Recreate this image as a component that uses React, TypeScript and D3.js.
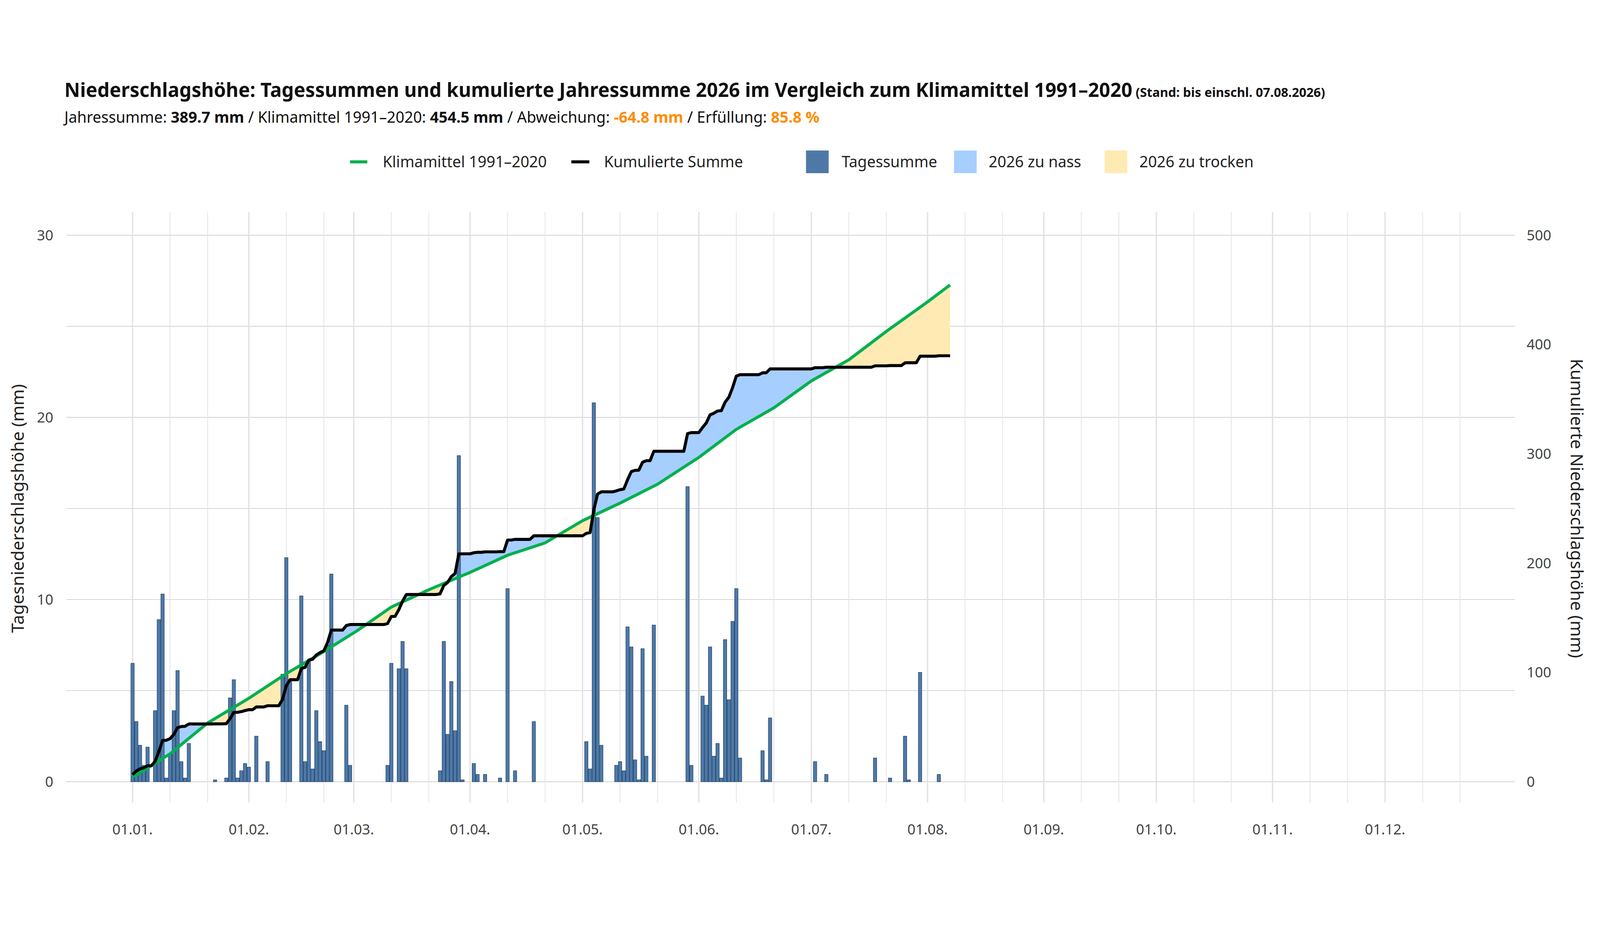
import React from 'react';
import * as d3 from 'd3';

// daily precipitation 2026 as [day of year (0 = 01.01.), mm]; days not listed are dry
const dailyRain: [number, number][] = [
  [0, 6.5], [1, 3.3], [2, 2.0], [3, 0.9], [4, 1.9], [6, 3.9], [7, 8.9], [8, 10.3], [9, 0.2], [10, 1.5],
  [11, 3.9], [12, 6.1], [13, 1.1], [14, 0.2], [15, 2.1], [22, 0.1], [25, 0.2], [26, 4.6], [27, 5.6],
  [28, 0.2], [29, 0.6], [30, 1.0], [31, 0.8], [33, 2.5], [36, 1.1], [40, 5.9], [41, 12.3], [42, 5.6],
  [45, 10.2], [46, 1.1], [47, 6.7], [48, 0.7], [49, 3.9], [50, 2.2], [51, 1.7], [52, 7.5], [53, 11.4],
  [57, 4.2], [58, 0.9], [68, 0.9], [69, 6.5], [71, 6.2], [72, 7.7], [73, 6.2], [82, 0.6], [83, 7.7],
  [84, 2.6], [85, 5.5], [86, 2.8], [87, 17.9], [88, 0.1], [91, 1.0], [92, 0.4], [94, 0.4], [98, 0.2],
  [100, 10.6], [102, 0.6], [107, 3.3], [121, 2.2], [122, 0.7], [123, 20.8], [124, 14.5], [125, 2.0],
  [129, 0.9], [130, 1.1], [131, 0.6], [132, 8.5], [133, 7.4], [134, 1.2], [135, 0.1], [136, 7.3],
  [137, 1.4], [139, 8.6], [148, 16.2], [149, 0.9], [152, 4.7], [153, 4.2], [154, 7.4], [155, 1.4],
  [156, 2.1], [157, 0.2], [158, 7.8], [159, 4.5], [160, 8.8], [161, 10.6], [162, 1.3], [168, 1.7],
  [169, 0.1], [170, 3.5], [182, 1.1], [185, 0.4], [198, 1.3], [202, 0.2], [206, 2.5], [207, 0.1],
  [210, 6.0], [215, 0.4],
];
const lastDay = 218; // 07.08.2026

// climate mean 1991–2020, cumulative mm, [day of year, mm]
const climateCum: [number, number][] = [
  [0, 4], [10, 25.5], [20, 53.7], [31, 76.3], [41, 98.9], [51, 119], [60, 138.4], [69, 159.8],
  [79, 175.6], [90, 191.5], [100, 207.2], [110, 218.5], [120, 238.8], [130, 254.9], [140, 272.2],
  [151, 296.7], [161, 322.4], [171, 342], [181, 366.7], [191, 386], [201, 412], [212, 439], [218, 454.5],
];

const leftTicks = [0, 10, 20, 30];
const rightTicks = [0, 100, 200, 300, 400, 500];
const monthLabels = ['01.01.', '01.02.', '01.03.', '01.04.', '01.05.', '01.06.', '01.07.', '01.08.', '01.09.', '01.10.', '01.11.', '01.12.'];

const W = 4800, H = 2400;
const FONT = '"Noto Sans", "Open Sans", sans-serif';
const GREEN = '#00b050', BAR = '#4e79a7', WET = '#a6cfff', DRY = '#ffeab3';

export default function App() {
  const year0 = new Date(2026, 0, 1);
  const dayDate = (d: number) => d3.timeDay.offset(year0, d);
  const x = d3.scaleTime().domain([year0, dayDate(365)]).range([397.7, 397.7 + 365 * 11.25]);
  const yL = d3.scaleLinear().domain([0, 30]).range([2137.6, 499]);
  const yR = d3.scaleLinear().domain([0, 500]).range([2137.6, 499]);
  const panelL = 199, panelR = 4545;

  const rainMap = new Map(dailyRain);
  const days = d3.range(0, lastDay + 1).map(d => ({ d, v: rainMap.get(d) ?? 0 }));
  let acc = 0;
  const cum = days.map(o => { acc += o.v; return { d: o.d, c: acc }; });

  const cumLine = d3.line<{ d: number; c: number }>().x(o => x(dayDate(o.d))).y(o => yR(o.c));
  const climLine = d3.line<[number, number]>().x(o => x(dayDate(o[0]))).y(o => yR(o[1]));
  const cumArea = d3.area<{ d: number; c: number }>().x(o => x(dayDate(o.d))).y0(yR(0)).y1(o => yR(o.c));
  const cumAbove = d3.area<{ d: number; c: number }>().x(o => x(dayDate(o.d))).y0(0).y1(o => yR(o.c));
  const climAbove = d3.area<[number, number]>().x(o => x(dayDate(o[0]))).y0(0).y1(o => yR(o[1]));
  const climBelow = d3.area<[number, number]>().x(o => x(dayDate(o[0]))).y0(yR(0)).y1(o => yR(o[1]));

  const months = d3.timeMonth.range(year0, dayDate(365));
  const dekads = months.flatMap(m => [d3.timeDay.offset(m, 10), d3.timeDay.offset(m, 20)]);
  const bw = 10;

  const legendY = 279;
  return (
    <svg viewBox={`0 0 ${W} ${H}`} preserveAspectRatio="xMidYMid meet"
      style={{ position: 'fixed', left: 0, top: 0, width: '100vw', height: '100vh', display: 'block', background: '#fff' }}
      fontFamily={FONT}>
      <defs>
        <clipPath id="aboveClim"><path d={climAbove(climateCum) || ''} /></clipPath>
        <clipPath id="aboveCum"><path d={cumAbove(cum) || ''} /></clipPath>
      </defs>
      <text x={193} y={84} fontSize={58} fontWeight={700} fill="#111">
        Niederschlagshöhe: Tagessummen und kumulierte Jahressumme 2026 im Vergleich zum Klimamittel 1991–2020
        <tspan fontSize={38}> (Stand: bis einschl. 07.08.2026)</tspan>
      </text>
      <text x={193} y={162} fontSize={46} fill="#111">
        Jahressumme: <tspan fontWeight={700}>389.7 mm</tspan> / Klimamittel 1991–2020: <tspan fontWeight={700}>454.5 mm</tspan> / Abweichung: <tspan fontWeight={700} fill="#ff8c00">-64.8 mm</tspan> / Erfüllung: <tspan fontWeight={700} fill="#ff8c00">85.8 %</tspan>
      </text>

      {/* legend */}
      <g fontSize={46} fill="#222">
        <line x1={1050} x2={1102} y1={legendY} y2={legendY} stroke={GREEN} strokeWidth={9} />
        <text x={1148} y={legendY + 16}>Klimamittel 1991–2020</text>
        <line x1={1714} x2={1768} y1={legendY} y2={legendY} stroke="#000" strokeWidth={9} />
        <text x={1812} y={legendY + 16}>Kumulierte Summe</text>
        <rect x={2418} y={legendY - 34} width={68} height={68} fill={BAR} />
        <text x={2525} y={legendY + 16}>Tagessumme</text>
        <rect x={2862} y={legendY - 34} width={68} height={68} fill={WET} />
        <text x={2966} y={legendY + 16}>2026 zu nass</text>
        <rect x={3314} y={legendY - 34} width={68} height={68} fill={DRY} />
        <text x={3418} y={legendY + 16}>2026 zu trocken</text>
      </g>

      {/* grid */}
      {d3.range(0, 31, 5).map(v => (
        <line key={'h' + v} x1={panelL} x2={panelR} y1={yL(v)} y2={yL(v)} stroke="#d6d6d6" strokeWidth={2.5} />
      ))}
      {months.map((m, i) => (
        <line key={'m' + i} x1={x(m)} x2={x(m)} y1={430} y2={2200} stroke="#e2e2e2" strokeWidth={4} />
      ))}
      {dekads.map((m, i) => (
        <line key={'k' + i} x1={x(m)} x2={x(m)} y1={430} y2={2200} stroke="#e6e6e6" strokeWidth={2.5} />
      ))}

      {/* wet / dry areas */}
      <path d={cumArea(cum) || ''} fill={WET} clipPath="url(#aboveClim)" />
      <path d={climBelow(climateCum) || ''} fill={DRY} clipPath="url(#aboveCum)" />

      {/* bars */}
      {days.map(o => (
        <rect key={o.d} x={x(dayDate(o.d)) - bw / 2} y={yL(o.v)} width={bw} height={yL(0) - yL(o.v)}
          fill={BAR} stroke="#24456b" strokeWidth={1.5} />
      ))}

      <path d={climLine(climateCum) || ''} fill="none" stroke={GREEN} strokeWidth={9} strokeLinejoin="round" />
      <path d={cumLine(cum) || ''} fill="none" stroke="#000" strokeWidth={9} strokeLinejoin="round" />

      {/* axes labels */}
      <g fontSize={43} fill="#444">
        {leftTicks.map(v => (
          <text key={v} x={160} y={yL(v) + 15} textAnchor="end">{v}</text>
        ))}
        {rightTicks.map(v => (
          <text key={v} x={4580} y={yR(v) + 15}>{v}</text>
        ))}
        {months.map((m, i) => (
          <text key={i} x={x(m)} y={2296} textAnchor="middle">{monthLabels[i]}</text>
        ))}
      </g>
      <text transform={`translate(72,${(yL(0) + yL(30)) / 2}) rotate(-90)`} textAnchor="middle" fontSize={52} fill="#222">
        Tagesniederschlagshöhe (mm)
      </text>
      <text transform={`translate(4712,${(yL(0) + yL(30)) / 2}) rotate(90)`} textAnchor="middle" fontSize={52} fill="#222">
        Kumulierte Niederschlagshöhe (mm)
      </text>
    </svg>
  );
}
